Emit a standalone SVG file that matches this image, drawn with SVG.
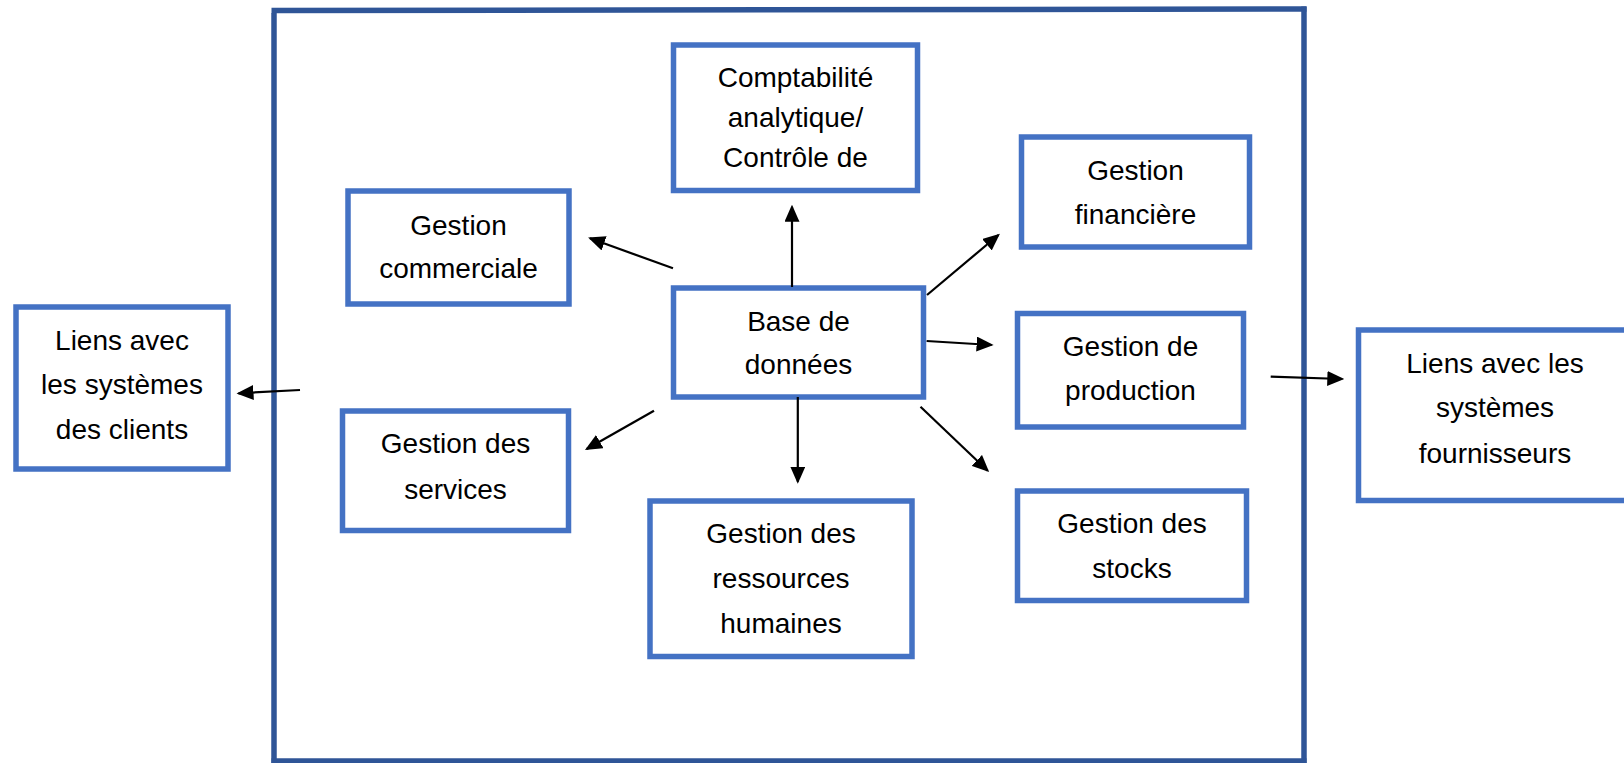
<svg xmlns="http://www.w3.org/2000/svg" width="1624" height="763" viewBox="0 0 1624 763">
  <style>
    .box { fill: #ffffff; stroke: #4472C4; stroke-width: 5.5; }
    .frame { stroke: #2F5597; stroke-width: 5.5; fill: none; }
    .lbl { font-family: "Liberation Sans", Arial, sans-serif; font-size: 28px; fill: #000000; text-anchor: middle; }
    .link { stroke: #000000; stroke-width: 2.2; fill: none; marker-end: url(#head); }
  </style>
  <defs>
    <marker id="head" markerUnits="userSpaceOnUse" markerWidth="17" markerHeight="15" viewBox="0 0 17 15" refX="15" refY="7.5" orient="auto">
      <path d="M0,0 L17,7.5 L0,15 z" fill="#000000"/>
    </marker>
  </defs>

  <rect width="1624" height="763" fill="#ffffff"/>

  <!-- system boundary -->
  <g id="boundary">
    <line class="frame" x1="271.5" y1="10.5" x2="1306.5" y2="9"/>
    <line class="frame" x1="1304" y1="6.5" x2="1304" y2="763"/>
    <line class="frame" x1="271.5" y1="761" x2="1306.5" y2="761"/>
    <line class="frame" x1="274" y1="13" x2="274" y2="763"/>
  </g>

  <g id="comptabilite">
    <rect class="box" x="673.5" y="45" width="244" height="145.5"/>
    <text class="lbl" x="795.5" y="86.7">Comptabilité</text>
    <text class="lbl" x="795.5" y="126.7">analytique/</text>
    <text class="lbl" x="795.5" y="167.3">Contrôle de</text>
  </g>

  <g id="commerciale">
    <rect class="box" x="348" y="191" width="221" height="113"/>
    <text class="lbl" x="458.5" y="235">Gestion</text>
    <text class="lbl" x="458.5" y="278">commerciale</text>
  </g>

  <g id="financiere">
    <rect class="box" x="1021.5" y="137" width="228" height="110"/>
    <text class="lbl" x="1135.5" y="180">Gestion</text>
    <text class="lbl" x="1135.5" y="224">financière</text>
  </g>

  <g id="base-donnees">
    <rect class="box" x="673.5" y="288" width="250" height="109"/>
    <text class="lbl" x="798.5" y="331">Base de</text>
    <text class="lbl" x="798.5" y="374">données</text>
  </g>

  <g id="production">
    <rect class="box" x="1017.5" y="313.5" width="226" height="113.5"/>
    <text class="lbl" x="1130.5" y="356">Gestion de</text>
    <text class="lbl" x="1130.5" y="400">production</text>
  </g>

  <g id="services">
    <rect class="box" x="342.5" y="411" width="226" height="119.5"/>
    <text class="lbl" x="455.5" y="453">Gestion des</text>
    <text class="lbl" x="455.5" y="499">services</text>
  </g>

  <g id="stocks">
    <rect class="box" x="1017.5" y="491" width="229" height="109.5"/>
    <text class="lbl" x="1132" y="533">Gestion des</text>
    <text class="lbl" x="1132" y="578">stocks</text>
  </g>

  <g id="ressources-humaines">
    <rect class="box" x="650" y="501" width="262" height="155.5"/>
    <text class="lbl" x="781" y="543">Gestion des</text>
    <text class="lbl" x="781" y="588">ressources</text>
    <text class="lbl" x="781" y="633">humaines</text>
  </g>

  <g id="clients">
    <rect class="box" x="16" y="307" width="212" height="162"/>
    <text class="lbl" x="122" y="350">Liens avec</text>
    <text class="lbl" x="122" y="394">les systèmes</text>
    <text class="lbl" x="122" y="439">des clients</text>
  </g>

  <g id="fournisseurs">
    <rect class="box" x="1358.5" y="330" width="290" height="170.5"/>
    <text class="lbl" x="1495" y="372.7">Liens avec les</text>
    <text class="lbl" x="1495" y="417.3">systèmes</text>
    <text class="lbl" x="1495" y="462.7">fournisseurs</text>
  </g>

  <g id="connectors">
    <line class="link" x1="792" y1="287" x2="792" y2="206.7"/>
    <line class="link" x1="927" y1="295" x2="998.4" y2="235"/>
    <line class="link" x1="673" y1="268.3" x2="590" y2="238.3"/>
    <line class="link" x1="926.6" y1="341" x2="991.6" y2="345"/>
    <line class="link" x1="797.8" y1="397" x2="797.8" y2="481.7"/>
    <line class="link" x1="920.5" y1="406.7" x2="987.7" y2="470.7"/>
    <line class="link" x1="654" y1="410.7" x2="586.7" y2="449"/>
    <line class="link" x1="300" y1="390" x2="238.5" y2="393.3"/>
    <line class="link" x1="1270.7" y1="376.7" x2="1342.3" y2="379"/>
  </g>
</svg>
